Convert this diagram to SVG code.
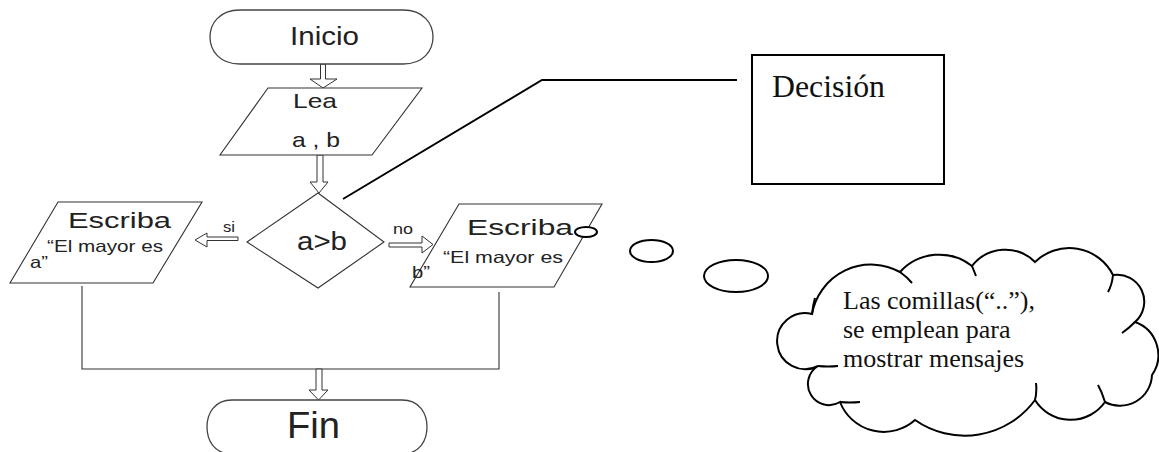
<svg xmlns="http://www.w3.org/2000/svg" width="1159" height="452" viewBox="0 0 1159 452">
<style>
.shape{fill:#fff;stroke:#333;stroke-width:1.1}
.term{fill:#fff;stroke:#444;stroke-width:1.3}
.arrow{fill:#fff;stroke:#333;stroke-width:1}
.line{fill:none;stroke:#333;stroke-width:1.1}
.bold{fill:none;stroke:#000;stroke-width:2}
.sans{font-family:"Liberation Sans",Arial,sans-serif;fill:#222}
.serif{font-family:"Liberation Serif","Times New Roman",serif;fill:#111}
</style>
<rect width="1159" height="452" fill="#fff"/>

<g id="connectors">
  <polygon class="arrow" points="320.5,64 325.5,64 325.5,79 337,79 323,88 310,79 320.5,79"/>
  <polygon class="arrow" points="317,155 323,155 323,182 328,182 319,193 310,182 317,182"/>
  <polygon class="arrow" points="238,237 238,240.5 207,240.5 207,247 195,240 207,233 207,237"/>
  <polygon class="arrow" points="389,243 422,243 422,236 433,244.5 422,253 422,247 389,247"/>
  <polyline class="line" points="82,286 82,369 499,369 499,292"/>
  <polygon class="arrow" points="316,369 322,369 322,390 328,390 318.5,400 309,390 316,390"/>
  <text class="sans" x="223" y="232" font-size="14" textLength="12" lengthAdjust="spacingAndGlyphs">si</text>
  <text class="sans" x="393" y="234" font-size="14" textLength="20" lengthAdjust="spacingAndGlyphs">no</text>
</g>

<g id="inicio">
  <path class="term" d="M240,10 H403 C424,10 433,24 433,37 C433,50 424,64 403,64 H240 C219,64 210,50 210,37 C210,24 219,10 240,10 Z"/>
  <text class="sans" x="290" y="45" font-size="25" textLength="69" lengthAdjust="spacingAndGlyphs">Inicio</text>
</g>

<g id="lea">
  <polygon class="shape" points="268,88 422,88 372,155 220,155"/>
  <text class="sans" x="293" y="108" font-size="21" textLength="44" lengthAdjust="spacingAndGlyphs">Lea</text>
  <text class="sans" x="292" y="147" font-size="21" textLength="48" lengthAdjust="spacingAndGlyphs">a , b</text>
</g>

<g id="decision">
  <polygon class="shape" points="318,193 384,242 318,288 247,242"/>
  <text class="sans" x="297" y="250" font-size="26" textLength="50" lengthAdjust="spacingAndGlyphs">a&gt;b</text>
</g>

<g id="escriba-si">
  <polygon class="shape" points="58,202 202,202 153,283 10,283"/>
  <text class="sans" x="68" y="228" font-size="22" textLength="103" lengthAdjust="spacingAndGlyphs">Escriba</text>
  <text class="sans" x="47" y="252" font-size="16.5" textLength="116" lengthAdjust="spacingAndGlyphs">“El mayor es</text>
  <text class="sans" x="30" y="268" font-size="16.5" textLength="18" lengthAdjust="spacingAndGlyphs">a”</text>
</g>

<g id="escriba-no">
  <polygon class="shape" points="459,204 602,204 554,287 410,287"/>
  <text class="sans" x="467" y="235" font-size="22" textLength="106" lengthAdjust="spacingAndGlyphs">Escriba</text>
  <text class="sans" x="443" y="263" font-size="16.5" textLength="120" lengthAdjust="spacingAndGlyphs">“El mayor es</text>
  <text class="sans" x="412" y="278" font-size="16.5" textLength="18" lengthAdjust="spacingAndGlyphs">b”</text>
  <ellipse cx="586" cy="232" rx="11" ry="5" fill="#fff" stroke="#000" stroke-width="2"/>
</g>

<g id="fin">
  <path class="term" d="M232,400 H402 C420,400 427,414 427,427 C427,440 420,454 402,454 H232 C214,454 207,440 207,427 C207,414 214,400 232,400 Z"/>
  <text class="sans" x="287" y="438" font-size="36" textLength="53" lengthAdjust="spacingAndGlyphs">Fin</text>
</g>

<g id="callout-decision">
  <polyline class="bold" points="343,199 542,80 737,80"/>
  <rect x="752" y="55" width="192" height="129" fill="#fff" stroke="#000" stroke-width="2"/>
  <text class="serif" x="772" y="97" font-size="32" textLength="113" lengthAdjust="spacingAndGlyphs">Decisión</text>
</g>

<g id="callout-comillas">
  <ellipse cx="651.5" cy="251" rx="21.5" ry="11" fill="#fff" stroke="#000" stroke-width="2"/>
  <ellipse cx="736" cy="276" rx="32" ry="16" fill="#fff" stroke="#000" stroke-width="2"/>
  <path d="M812,314 A60,60 0 0 1 900,272 A53,53 0 0 1 972,266 A42,42 0 0 1 1035,262 A49,49 0 0 1 1113,275 A27,27 0 0 1 1135,322 A35,35 0 0 1 1152,375 A32,32 0 0 1 1105,402 A42,42 0 0 1 1035,400 A87,87 0 0 1 915,420 A47,47 0 0 1 840,402 A21,21 0 0 1 818,366 A28,28 0 1 1 812,314 Z" fill="#fff" stroke="#000" stroke-width="2"/>
  <path d="M812,314 Q813,305 815,298 M900,272 Q907,277 912,283 M972,266 Q974,271 976,276 M1113,275 Q1112,285 1108,292 M1135,322 Q1128,329 1122,333 M1105,402 Q1102,392 1098,385 M1035,400 Q1037,392 1036,383 M840,402 Q850,403 860,402 M818,366 Q828,367 838,366" fill="none" stroke="#000" stroke-width="2"/>
  <text class="serif" x="843" y="309" font-size="26">Las comillas(“..”),</text>
  <text class="serif" x="843" y="338" font-size="26">se emplean para</text>
  <text class="serif" x="843" y="367" font-size="26">mostrar mensajes</text>
</g>
</svg>
